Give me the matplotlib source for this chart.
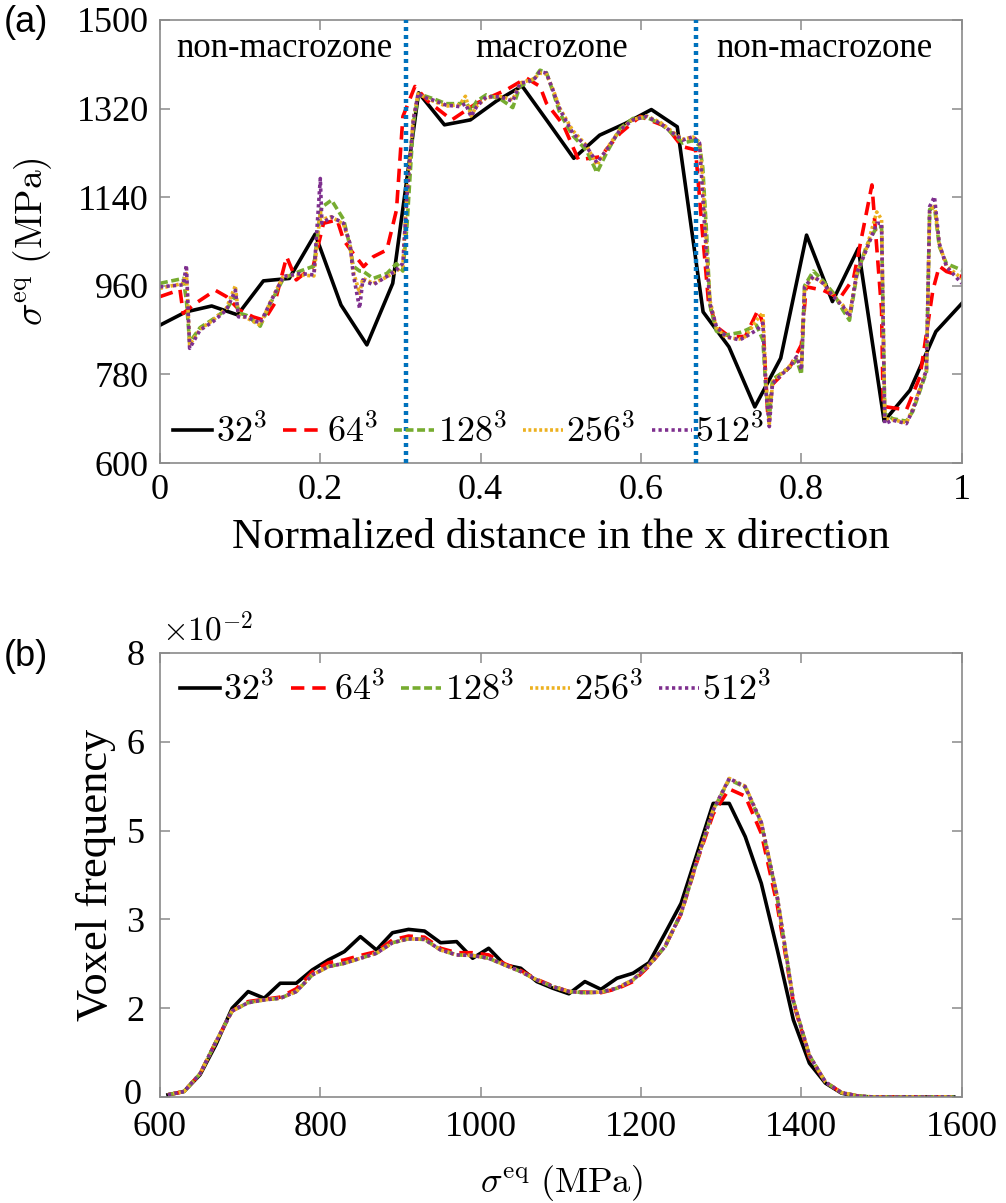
import matplotlib.pyplot as plt
import matplotlib.transforms as mtransforms
import numpy as np

plt.rcParams['font.family'] = ['Liberation Serif', 'DejaVu Serif']
plt.rcParams['mathtext.fontset'] = 'cm'

# ---- (a) stress along x ----
labels = [r'$32^3$', r'$64^3$', r'$128^3$', r'$256^3$', r'$512^3$']

x_32 = np.linspace(0, 1, 32)
y_32 = [880, 907, 919, 901, 970, 975, 1065, 921, 840, 965,
        1352, 1287, 1297, 1335, 1366, 1293, 1219, 1266, 1290, 1318,
        1283, 907, 836, 714, 813, 1063, 928, 1036, 685, 748,
        867, 924]

x_64 = [0.000, 0.025, 0.029, 0.045, 0.069, 0.083, 0.099, 0.116, 0.130, 0.143,
        0.158, 0.170, 0.191, 0.204, 0.221, 0.229, 0.241, 0.254, 0.266, 0.283,
        0.295, 0.303, 0.318, 0.334, 0.364, 0.395, 0.432, 0.457, 0.474, 0.482,
        0.503, 0.522, 0.549, 0.574, 0.599, 0.632, 0.651, 0.668, 0.676, 0.684,
        0.694, 0.710, 0.730, 0.746, 0.752, 0.758, 0.764, 0.786, 0.800, 0.806,
        0.827, 0.848, 0.865, 0.888, 0.900, 0.902, 0.931, 0.948, 0.964, 0.972,
        0.981, 1.000]
y_64 = [938, 952, 904, 925, 951, 938, 911, 897, 890, 924,
        1019, 972, 999, 1087, 1094, 1053, 1026, 999, 1019, 1033,
        1114, 1304, 1365, 1335, 1297, 1331, 1358, 1382, 1365, 1331,
        1287, 1216, 1222, 1270, 1304, 1283, 1243, 1236, 1080, 930,
        877, 857, 857, 911, 884, 700, 760, 796, 840, 958,
        951, 935, 975, 1165, 911, 715, 708, 776, 951, 1000,
        989, 979]

x_fine = [0.000, 0.029, 0.033, 0.037, 0.050, 0.066, 0.083, 0.094, 0.098, 0.108,
          0.125, 0.137, 0.154, 0.175, 0.192, 0.200, 0.202, 0.214, 0.229, 0.237,
          0.241, 0.249, 0.253, 0.266, 0.283, 0.295, 0.303, 0.308, 0.316, 0.322,
          0.328, 0.341, 0.357, 0.374, 0.381, 0.388, 0.395, 0.407, 0.424, 0.440,
          0.449, 0.466, 0.474, 0.482, 0.490, 0.499, 0.515, 0.532, 0.545, 0.557,
          0.574, 0.590, 0.607, 0.624, 0.640, 0.652, 0.665, 0.673, 0.677, 0.682,
          0.686, 0.694, 0.706, 0.723, 0.731, 0.744, 0.752, 0.756, 0.760, 0.764,
          0.773, 0.786, 0.794, 0.800, 0.804, 0.815, 0.827, 0.840, 0.852, 0.860,
          0.869, 0.881, 0.894, 0.900, 0.904, 0.914, 0.931, 0.939, 0.956, 0.960,
          0.966, 0.972, 0.981, 1.000]
y_128 = [965, 975, 930, 845, 875, 892, 912, 940, 905, 900,
         878, 922, 975, 990, 1000, 1110, 1120, 1134, 1095, 1040,
         1000, 990, 990, 975, 985, 1005, 990, 1080, 1290, 1345,
         1347, 1340, 1330, 1330, 1335, 1315, 1335, 1348, 1340, 1322,
         1365, 1380, 1398, 1393, 1355, 1310, 1265, 1235, 1190, 1230,
         1280, 1300, 1302, 1290, 1268, 1250, 1255, 1245, 1200, 1060,
         920, 868, 860, 865, 870, 880, 850, 745, 690, 770,
         780, 795, 810, 780, 960, 990, 970, 945, 910, 890,
         980, 1040, 1080, 1080, 700, 690, 685, 705, 785, 1115,
         1120, 1040, 1005, 992]
y_256 = [955, 965, 985, 840, 872, 890, 915, 960, 900, 895,
         880, 925, 980, 982, 980, 1110, 1095, 1100, 1085, 1045,
         990, 945, 975, 965, 978, 990, 1000, 1150, 1300, 1350,
         1345, 1335, 1325, 1328, 1345, 1305, 1325, 1342, 1345, 1338,
         1372, 1380, 1392, 1390, 1360, 1320, 1275, 1245, 1205, 1238,
         1278, 1298, 1305, 1292, 1272, 1258, 1262, 1252, 1180, 1030,
         930, 875, 855, 852, 858, 890, 905, 760, 680, 765,
         778, 798, 815, 795, 955, 978, 966, 940, 920, 900,
         985, 1035, 1110, 1095, 690, 688, 682, 710, 790, 1110,
         1125, 1045, 1000, 975]
y_512 = [958, 962, 1002, 833, 870, 887, 911, 951, 897, 897,
         884, 924, 979, 985, 982, 1178, 1087, 1100, 1087, 1046,
         985, 914, 972, 962, 979, 992, 1006, 1141, 1297, 1351,
         1344, 1337, 1327, 1324, 1330, 1304, 1324, 1344, 1344, 1335,
         1371, 1378, 1395, 1392, 1358, 1317, 1270, 1243, 1210, 1236,
         1277, 1297, 1304, 1290, 1270, 1256, 1263, 1250, 1141, 1012,
         924, 877, 857, 850, 857, 870, 884, 742, 674, 762,
         776, 796, 816, 789, 958, 979, 965, 938, 918, 897,
         985, 1033, 1087, 1087, 680, 687, 680, 708, 789, 1121,
         1141, 1046, 999, 965]

zone_edges = [0.307, 0.669]
zone_text = ['non-macrozone', 'macrozone', 'non-macrozone']
zone_pos = [0.155, 0.489, 0.829]

# ---- (b) histogram of stress ----
bins = np.arange(610, 1600, 20)
f_32 = [0.04, 0.10, 0.40, 0.95, 1.60, 1.90, 1.78, 2.05, 2.05, 2.29,
        2.47, 2.62, 2.89, 2.65, 2.96, 3.02, 2.99, 2.78, 2.80, 2.50,
        2.68, 2.38, 2.32, 2.08, 1.96, 1.86, 2.08, 1.94, 2.14, 2.23,
        2.42, 2.95, 3.49, 4.39, 5.29, 5.29, 4.69, 3.85, 2.65, 1.39,
        0.61, 0.25, 0.07, 0.01, 0, 0, 0, 0, 0, 0]
f_64 = [0.04, 0.10, 0.42, 1.00, 1.55, 1.72, 1.76, 1.80, 1.95, 2.25,
        2.42, 2.47, 2.55, 2.62, 2.83, 2.90, 2.88, 2.68, 2.60, 2.60,
        2.56, 2.40, 2.28, 2.12, 2.00, 1.90, 1.89, 1.88, 1.95, 2.08,
        2.36, 2.72, 3.30, 4.25, 5.10, 5.55, 5.42, 4.75, 3.45, 1.70,
        0.72, 0.27, 0.08, 0.02, 0, 0, 0, 0, 0, 0]
f_128 = [0.04, 0.10, 0.42, 1.00, 1.55, 1.70, 1.75, 1.78, 1.90, 2.20,
         2.35, 2.41, 2.50, 2.59, 2.78, 2.85, 2.84, 2.65, 2.56, 2.55,
         2.50, 2.38, 2.26, 2.11, 1.99, 1.90, 1.88, 1.89, 1.96, 2.11,
         2.38, 2.71, 3.31, 4.27, 5.17, 5.72, 5.58, 4.93, 3.58, 1.73,
         0.75, 0.27, 0.08, 0.02, 0, 0, 0, 0, 0, 0]
f_256 = [0.04, 0.10, 0.42, 1.00, 1.55, 1.70, 1.75, 1.78, 1.90, 2.20,
         2.35, 2.41, 2.50, 2.59, 2.78, 2.85, 2.84, 2.65, 2.56, 2.55,
         2.50, 2.38, 2.26, 2.11, 1.99, 1.90, 1.88, 1.89, 1.96, 2.11,
         2.38, 2.71, 3.31, 4.27, 5.17, 5.74, 5.60, 4.95, 3.60, 1.73,
         0.75, 0.27, 0.08, 0.02, 0, 0, 0, 0, 0, 0]
f_512 = [0.04, 0.10, 0.42, 1.00, 1.55, 1.70, 1.75, 1.78, 1.90, 2.20,
         2.35, 2.41, 2.50, 2.59, 2.78, 2.85, 2.84, 2.65, 2.56, 2.55,
         2.50, 2.38, 2.26, 2.11, 1.99, 1.90, 1.88, 1.89, 1.96, 2.11,
         2.38, 2.71, 3.31, 4.27, 5.17, 5.74, 5.59, 4.95, 3.60, 1.73,
         0.75, 0.27, 0.08, 0.02, 0, 0, 0, 0, 0, 0]

colors = ['k', '#FF0000', '#77AC30', '#EDB120', '#7E2F8E']
dashes = ['-', (0, (3.7, 2.2)), (0, (2.2, 1.0)), (0, (0.8, 0.7)), (0, (0.9, 0.9))]
lw = 2.6
grey = '#8a8a8a'


def style_axes(ax):
    for s in ax.spines.values():
        s.set_color(grey)
        s.set_linewidth(1.2)
    ax.tick_params(direction='in', top=True, right=True, length=7, width=1.1,
                   color=grey, labelcolor='k', labelsize=26, pad=8)


fig = plt.figure(figsize=(10.06, 12.03), dpi=100)
ax1 = fig.add_axes([0.159, 0.6151, 0.797, 0.3683])
ax2 = fig.add_axes([0.159, 0.0881, 0.797, 0.3691])

# top panel
top_x = [x_32, x_64, x_fine, x_fine, x_fine]
top_y = [y_32, y_64, y_128, y_256, y_512]
for xs, ys, c, d, lab in zip(top_x, top_y, colors, dashes, labels):
    ax1.plot(xs, ys, color=c, linestyle=d, lw=lw, label=lab)
for xe in zone_edges:
    ax1.axvline(xe, color='#0072BD', linestyle=(0, (0.9, 0.9)), lw=3.2, zorder=5)
for t, xp in zip(zone_text, zone_pos):
    ax1.text(xp, 1443, t, ha='center', va='center', fontsize=25)

ax1.set_xlim(0, 1)
ax1.set_ylim(600, 1500)
ax1.set_xticks([0, 0.2, 0.4, 0.6, 0.8, 1])
ax1.set_xticklabels(['0', '0.2', '0.4', '0.6', '0.8', '1'])
ax1.set_yticks([600, 780, 960, 1140, 1320, 1500])
style_axes(ax1)
ax1.set_xlabel('Normalized distance in the x direction', fontsize=31, labelpad=8)
ax1.set_ylabel(r'$\sigma^{\rm eq}\ ({\rm MPa})$', fontsize=27, labelpad=16)
ax1.legend(ncol=5, loc='lower left', frameon=False, fontsize=26,
           handlelength=1.1, handletextpad=0.1, columnspacing=0.45,
           borderaxespad=0.15, borderpad=0.2)

# bottom panel
series_b = [f_32, f_64, f_128, f_256, f_512]
for ys, c, d, lab in zip(series_b, colors, dashes, labels):
    ax2.plot(bins, np.array(ys) / 100, color=c, linestyle=d, lw=lw, label=lab)

ax2.set_xlim(600, 1600)
ax2.set_ylim(0, 0.08)
ax2.set_xticks([600, 800, 1000, 1200, 1400, 1600])
ax2.set_yticks([0, 0.016, 0.032, 0.048, 0.064, 0.08])
ax2.set_yticklabels(['0', '2', '3', '5', '6', '8'])
style_axes(ax2)
ax2.tick_params(axis='x', pad=10)
ax2.tick_params(axis='y', pad=11)
ax2.set_xlabel(r'$\sigma^{\rm eq}\ ({\rm MPa})$', fontsize=26, labelpad=14)
ax2.set_ylabel('Voxel frequency', fontsize=32, labelpad=6)
ax2.legend(ncol=5, loc='upper left', frameon=False, fontsize=26,
           handlelength=1.1, handletextpad=0.1, columnspacing=0.45,
           borderaxespad=0.35, borderpad=0.2)

# nudge the "0" label a little up so it clears the "600" below it
fig.canvas.draw()
zero_lab = ax2.get_yticklabels()[0]
zero_lab.set_transform(zero_lab.get_transform() +
                       mtransforms.ScaledTranslation(-2 / 72, 4 / 72, fig.dpi_scale_trans))

fig.text(0.161, 1 - 630 / 1203, r'$\times10^{-2}$', fontsize=24, ha='left', va='center')
fig.text(0.004, 1 - 22 / 1203, '(a)', family='Liberation Sans', fontsize=26, va='center')
fig.text(0.004, 1 - 656 / 1203, '(b)', family='Liberation Sans', fontsize=26, va='center')

fig.savefig('out.png', dpi=100)
